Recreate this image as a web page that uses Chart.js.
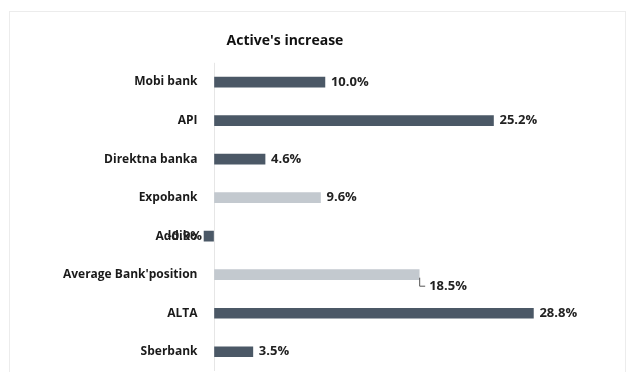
<!DOCTYPE html>
<html>
<head>
<meta charset="utf-8">
<script src="https://cdn.jsdelivr.net/npm/chart.js@4"></script>
<style>
  body { margin: 0; background: #fff; }
  #wrap { position: relative; width: 628px; height: 372px; }
  #frame { position: absolute; left: 9px; top: 11px; right: 2px; bottom: -2px; border: 1px solid #ececec; }
  #chart { position: absolute; left: 0; top: 0; }
</style>
</head>
<body>
<div id="wrap">
  <div id="frame"></div>
  <canvas id="chart" width="628" height="372"></canvas>
</div>
<script>
var banks = ['Mobi bank', 'API', 'Direktna banka', 'Expobank', 'Addiko', "Average Bank'position", 'ALTA', 'Sberbank'];
var increase = [10.0, 25.2, 4.6, 9.6, -0.9, 18.5, 28.8, 3.5];
var highlighted = ['Expobank', "Average Bank'position"];

var dark = '#4b5866';
var light = '#c3c9cf';
var barColors = banks.map(function(b) { return highlighted.indexOf(b) >= 0 ? light : dark; });

// value labels at the end of each bar, the average one sits below with a little leader
var valueLabels = {
  id: 'valueLabels',
  afterDatasetsDraw: function(chart) {
    var ctx = chart.ctx;
    var meta = chart.getDatasetMeta(0);
    ctx.save();
    ctx.font = 'bold 13px "Open Sans"';
    ctx.fillStyle = '#222';
    ctx.textBaseline = 'middle';
    meta.data.forEach(function(bar, i) {
      var v = increase[i];
      var txt = v.toFixed(1) + '%';
      if (banks[i] == "Average Bank'position") {
        ctx.strokeStyle = '#555';
        ctx.lineWidth = 1;
        ctx.beginPath();
        ctx.moveTo(bar.x + 0.5, bar.y + 3);
        ctx.lineTo(bar.x + 0.5, bar.y + 11.5);
        ctx.lineTo(bar.x + 6, bar.y + 11.5);
        ctx.stroke();
        ctx.textAlign = 'left';
        ctx.fillText(txt, bar.x + 10, bar.y + 12);
      } else if (v < 0) {
        ctx.textAlign = 'right';
        ctx.fillText(txt, bar.x - 2, bar.y);
      } else {
        ctx.textAlign = 'left';
        ctx.fillText(txt, bar.x + 6, bar.y);
      }
    });
    ctx.restore();
  }
};

var ctx = document.getElementById('chart');
var chart = new Chart(ctx, {
  type: 'bar',
  data: {
    labels: banks,
    datasets: [{
      data: increase,
      backgroundColor: barColors,
      borderWidth: 0,
      barThickness: 10
    }]
  },
  options: {
    responsive: false,
    animation: false,
    indexAxis: 'y',
    layout: { padding: { top: 0, right: 58, bottom: 1, left: 0 } },
    plugins: {
      legend: { display: false },
      tooltip: { enabled: false },
      title: {
        display: true,
        text: "Active's increase",
        color: '#111',
        font: { family: 'Open Sans', size: 14, weight: 'bold' },
        padding: { top: 33, bottom: 13 }
      }
    },
    scales: {
      x: {
        min: -1.4,
        max: 32.1,
        ticks: { display: false },
        border: { display: false },
        grid: {
          drawTicks: false,
          color: function(c) { return c.tick && c.tick.value === 0 ? '#e6e6e6' : 'rgba(0,0,0,0)'; }
        },
        afterBuildTicks: function(scale) { scale.ticks = [{ value: 0 }]; },
        afterFit: function(scale) { scale.height = 0; }
      },
      y: {
        grid: { display: false, drawTicks: false },
        border: { display: false },
        ticks: {
          padding: 1,
          color: '#1a1a1a',
          font: { family: 'Open Sans', size: 12, weight: 'bold' }
        },
        afterFit: function(scale) {
          scale.width = 198.5;
          scale.paddingTop = 0;
          scale.paddingBottom = 0;
        }
      }
    }
  },
  plugins: [valueLabels]
});
</script>
</body>
</html>
